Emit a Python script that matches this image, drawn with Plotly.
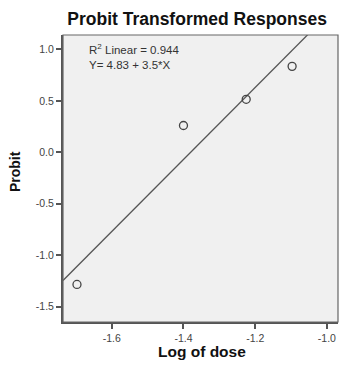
import plotly.graph_objects as go

log_dose = [-1.697, -1.40, -1.225, -1.097]
probit = [-1.285, 0.26, 0.515, 0.835]
intercept = 4.83
slope = 3.5
r2 = 0.944

x_ticks = [-1.6, -1.4, -1.2, -1.0]
x_ticklabels = ["-1.6", "-1.4", "-1.2", "-1.0"]
y_ticks = [-1.5, -1.0, -0.5, 0.0, 0.5, 1.0]
y_ticklabels = ["-1.5", "-1.0", "-0.5", "0.0", "0.5", "1.0"]

x_range = [-1.736, -0.969]
y_range = [-1.65, 1.14]

line_x = [x_range[0], x_range[1]]
line_y = [intercept + slope * v for v in line_x]

FONT = "Liberation Sans, Arial"

fig = go.Figure()
fig.add_trace(go.Scatter(x=line_x, y=line_y, mode="lines",
                         line=dict(color="#555555", width=1.3),
                         hoverinfo="skip", showlegend=False))
fig.add_trace(go.Scatter(x=log_dose, y=probit, mode="markers",
                         marker=dict(symbol="circle-open", size=8,
                                     color="#444444", line=dict(width=1.3)),
                         showlegend=False))

fig.add_annotation(xref="paper", yref="paper", x=0.088, y=0.982,
                   xanchor="left", yanchor="top", align="left", showarrow=False,
                   text=f"R<sup>2</sup> Linear = {r2:.3f}<br>Y= {intercept} + {slope}*X",
                   font=dict(family=FONT, size=11.5, color="#333333"))

# axis titles
fig.add_annotation(xref="paper", yref="paper", x=0.505, y=-0.1045,
                   xanchor="center", yanchor="middle", showarrow=False,
                   text="<b>Log of dose</b>",
                   font=dict(family=FONT, size=15.5, color="#111111"))
fig.add_annotation(xref="paper", yref="paper", x=-0.1745, y=0.5226,
                   xanchor="center", yanchor="middle", showarrow=False,
                   textangle=-90, text="<b>Probit</b>",
                   font=dict(family=FONT, size=14, color="#111111"))

fig.add_shape(type="rect", xref="paper", yref="paper", x0=0, y0=0, x1=1, y1=1,
              line=dict(color="#666666", width=1.2), layer="above")

axis_common = dict(showgrid=False, zeroline=False, showline=True,
                   linecolor="#555555", linewidth=2, ticks="outside",
                   ticklen=5, tickwidth=1.5, tickcolor="#555555",
                   tickfont=dict(family=FONT, size=10.5, color="#444444"))

fig.update_xaxes(range=x_range, tickvals=x_ticks, ticktext=x_ticklabels, **axis_common)
fig.update_yaxes(range=y_range, tickvals=y_ticks, ticktext=y_ticklabels, **axis_common)

fig.update_layout(
    width=341, height=369,
    margin=dict(l=63, r=3, t=35, b=47),
    paper_bgcolor="white", plot_bgcolor="#f0f0f0",
    title=dict(text="<b>Probit Transformed Responses</b>", x=0.578, xanchor="center",
               y=0.9485, yanchor="middle",
               font=dict(family=FONT, size=17.5, color="#111111")),
)

fig.write_html("out.html", config={"displayModeBar": False},
               post_script="document.body.style.margin='0';document.body.style.overflow='hidden';")
